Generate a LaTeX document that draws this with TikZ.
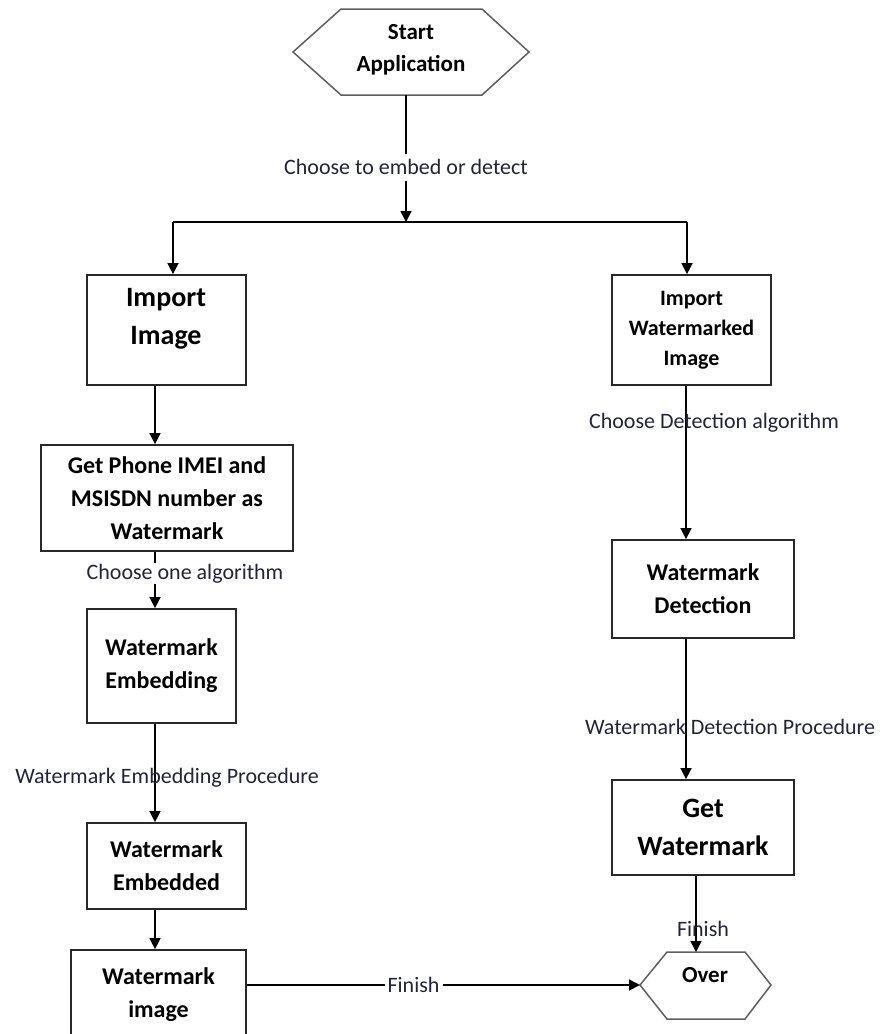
\documentclass[tikz,border=0pt]{standalone}
\usepackage{fontspec}
\setmainfont{Carlito}
\usepackage{tikz}
\usetikzlibrary{arrows.meta}

\definecolor{lblcol}{RGB}{35,35,60}
\definecolor{boxline}{RGB}{40,40,40}
\definecolor{hexline}{RGB}{95,95,95}

\tikzset{
  box/.style={draw=boxline, line width=1.8pt, align=center, inner sep=0pt,
    font=\bfseries\fontsize{24}{33}\selectfont},
  bigtext/.style={align=center, font=\bfseries\fontsize{28}{38}\selectfont},
  hex/.style={draw=hexline, line width=1.5pt},
  hextext/.style={align=center, font=\bfseries\fontsize{23}{32}\selectfont},
  line/.style={line width=1.6pt},
  arr/.style={line width=1.6pt, -{Triangle[length=11pt,width=11pt]}},
  lbl/.style={text=lblcol, font=\fontsize{22}{26}\selectfont, inner sep=6pt}
}

\begin{document}
\begin{tikzpicture}[x=1pt,y=-1pt]
    \clip (0,0) rectangle (882,1034);
    % start
    \draw[hex] (293,52) -- (341,9) -- (482,9) -- (529,52) -- (482,95) -- (341,95) -- cycle;
    \node[hextext] (start) at (411,50) {Start\\Application};
    \coordinate (startb) at (406,95);
    \coordinate (split) at (406,222);
    \coordinate (splitL) at (173,222);
    \coordinate (splitR) at (687,222);
    \coordinate (colL) at (155,0);
    \coordinate (colR) at (686,0);

    % left column
    \node[box, minimum width=159, minimum height=110] (ii) at (166.5,330) {};
    \node[bigtext] (iit) at (166,319) {Import\\Image};
    \node[box, minimum width=252, minimum height=106] (gp) at (167,498) {Get Phone IMEI and\\MSISDN number as\\Watermark};
    \node[box, minimum width=149, minimum height=114] (wemb) at (161.5,666) {Watermark\\Embedding};
    \node[box, minimum width=159, minimum height=86] (wembd) at (166.5,866) {Watermark\\Embedded};
    \node[box, minimum width=175, minimum height=90] (wimg) at (158.5,995) {Watermark\\image};

    % right column
    \node[box, font=\bfseries\fontsize{22}{30}\selectfont, minimum width=159, minimum height=110] (iwi) at (691.5,330) {Import\\Watermarked\\Image};
    \node[box, minimum width=182, minimum height=98] (wd) at (703,589) {Watermark\\Detection};
    \node[box, font=\bfseries\fontsize{28}{38}\selectfont, minimum width=182, minimum height=95] (gw) at (703,827.5) {Get\\Watermark};

    % over
    \draw[hex] (640,985) -- (667,952) -- (745,952) -- (771,985) -- (745,1019) -- (667,1019) -- cycle;
    \node[hextext] (over) at (705,975) {Over};
    \coordinate (overL) at (640,985);
    \coordinate (overT) at (696,952);

    % connectors
    \draw[arr] (startb) -- node[lbl, fill=white, pos=0.57] {Choose to embed or detect} (split);
    \draw[line] (splitL) -- (splitR);
    \draw[arr] (splitL) -- (ii.north -| splitL);
    \draw[arr] (splitR) -- (iwi.north -| splitR);
    \draw[arr] (ii.south -| colL) -- (gp.north -| colL);
    \draw[arr] (gp.south -| colL) -- node[lbl, fill=white, pos=0.38, xshift=30, inner sep=1pt] {Choose one algorithm} (wemb.north -| colL);
    \draw[arr] (wemb.south -| colL) -- node[lbl, pos=0.545, xshift=12] {Watermark Embedding Procedure} (wembd.north -| colL);
    \draw[arr] (wembd.south -| colL) -- (wimg.north -| colL);
    \draw[arr] (wimg.east |- overL) -- node[lbl, fill=white, pos=0.424, inner sep=3pt] {Finish} (overL);

    \draw[arr] (iwi.south -| colR) -- node[lbl, pos=0.24, xshift=28] {Choose Detection algorithm} (wd.north -| colR);
    \draw[arr] (wd.south -| colR) -- node[lbl, pos=0.627, xshift=44] {Watermark Detection Procedure} (gw.north -| colR);
    \draw[arr] (gw.south -| overT) -- node[lbl, pos=0.7, xshift=7] {Finish} (overT);
\end{tikzpicture}
\end{document}
